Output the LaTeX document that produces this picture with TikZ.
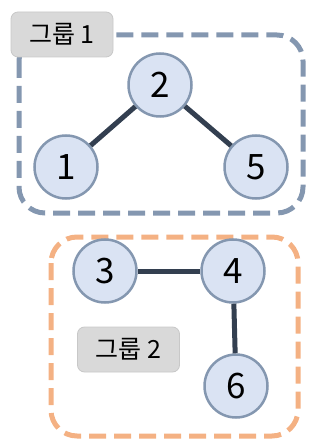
\documentclass[tikz,border=0pt]{standalone}
\usepackage{fontspec}
\setmainfont{Noto Sans CJK KR}
\begin{document}
\begin{tikzpicture}[x=1pt,y=-1pt,
  nd/.style={circle,draw=ndb,fill=ndf,line width=2.5pt,minimum size=63pt,inner sep=0pt,font=\fontsize{35}{35}\selectfont},
  edge/.style={draw=edc,line width=5pt},
  grp/.style={rounded corners=26pt,line width=5pt,dash pattern=on 17pt off 8pt},
  lbl/.style={rounded corners=7pt,fill=lblf,draw=lbld,line width=0.8pt,minimum width=102pt,minimum height=45pt,font=\fontsize{25}{25}\selectfont}]
\definecolor{ndb}{HTML}{8497B0}
\definecolor{ndf}{HTML}{DAE3F3}
\definecolor{edc}{HTML}{333F50}
\definecolor{g1}{HTML}{8497B0}
\definecolor{g2}{HTML}{F4B183}
\definecolor{lblf}{HTML}{D9D9D9}
\definecolor{lbld}{HTML}{C8C8C8}
\useasboundingbox (0,0) rectangle (320,446);
\draw[grp,draw=g1] (19,35) rectangle (303,213);
\draw[grp,draw=g2] (51,237) rectangle (298,436);
\node[lbl] (l1) at (62,34.5) {그룹 1};
\node[lbl] (l2) at (128.5,349.5) {그룹 2};
\node[nd] (n2) at (160,85) {2};
\node[nd] (n1) at (66,167) {1};
\node[nd] (n5) at (256,167) {5};
\node[nd] (n3) at (105,271) {3};
\node[nd] (n4) at (233,271) {4};
\node[nd] (n6) at (236,386) {6};
\draw[edge] (n2) -- (n1);
\draw[edge] (n2) -- (n5);
\draw[edge] (n3) -- (n4);
\draw[edge] (n4) -- (n6);
\end{tikzpicture}
\end{document}
